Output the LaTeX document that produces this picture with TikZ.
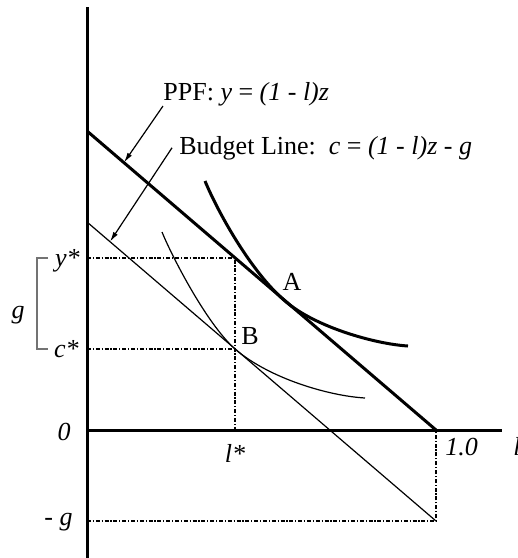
\documentclass[tikz,border=0pt]{standalone}
\usepackage{fontspec}
\setmainfont{Liberation Serif}
\usepackage{tikz}
\usetikzlibrary{arrows.meta,positioning,calc}

\begin{document}
\begin{tikzpicture}[x=0.5pt, y=-0.5pt, >={Latex[length=5pt,width=2.6pt]},
  font=\fontsize{13}{15}\selectfont,
  axis/.style={line width=1.5pt},
  guide/.style={line width=0.8pt, dash pattern=on 2pt off 0.9pt on 0.6pt off 0.9pt},
  ptr/.style={->, line width=0.6pt},
  lbl/.style={inner sep=0pt},
  val/.style={inner sep=0pt, font=\fontsize{13}{15}\selectfont\itshape}]
  \useasboundingbox (0,0) rectangle (518,558);
  \coordinate (O) at (87,430);
  \coordinate (ytop) at (87,7);
  \coordinate (ybot) at (87,558);
  \coordinate (xend) at (502,430);
  \coordinate (ppfY) at (87,131);
  \coordinate (one) at (436,430);
  \coordinate (budY) at (87,222);
  \coordinate (budE) at (436,521);
  \coordinate (ystar) at (87,258);
  \coordinate (cstar) at (87,349);
  \coordinate (mg) at (87,521);
  \coordinate (P) at (235,258);
  \coordinate (B) at (235,349);
  \coordinate (lstar) at (235,430);
  \coordinate (ppfhit) at (124,162.5);
  \coordinate (budhit) at (110,241.7);
  \draw[guide] (ystar) -- (P) -- (lstar);
  \draw[guide] (cstar) -- (B);
  \draw[guide] (mg) -- (budE) -- (one);
  \draw[axis] (ytop) -- (ybot);
  \draw[axis] (O) -- (xend);
  \draw[line width=1.5pt] (ppfY) -- (one);
  \draw[line width=0.6pt] (budY) -- (budE);
  \draw[line width=1.5pt] (205,181) .. controls (217,210) and (250,271) .. (285,301)
    .. controls (315,327) and (375,344) .. (408,346);
  \draw[line width=0.6pt] (162,232) .. controls (170,252) and (205,322) .. (B)
    .. controls (270,379) and (330,396) .. (365,398);
  \draw[line width=0.6pt, black!55] (48,258) -- (37,258) -- (37,349) -- (48,349);
  \node[lbl, anchor=base west] (ppflab) at (163,100) {PPF: \textit{y} = \textit{(1 - l)z}};
  \node[lbl, anchor=base west] (budlab) at (179,154) {Budget Line:\ \ \textit{c} = \textit{(1 - l)z - g}};
  \draw[ptr] (ppflab.south west) -- (ppfhit);
  \draw[ptr] ([xshift=-3.5pt]budlab.west) -- (budhit);
  \node[val, anchor=base east] (ylab) at (80,266) {y*};
  \node[val, anchor=base east] (clab) at (79,357) {c*};
  \node[val, anchor=base] (glab) at (18,318) {g};
  \node[val, anchor=base east] (zlab) at (71,440) {0};
  \node[val, anchor=base east] (mglab) at (73,525) {- g};
  \node[val, anchor=base] (lslab) at (235,462) {l*};
  \node[val, anchor=base west] (onelab) at (445,455) {1.0};
  \node[val, anchor=base west] (llab) at (513,455) {l};
  \node[lbl, anchor=base] (Alab) at (292,290) {A};
  \node[lbl, anchor=base] (Blab) at (250,344) {B};
\end{tikzpicture}
\end{document}
